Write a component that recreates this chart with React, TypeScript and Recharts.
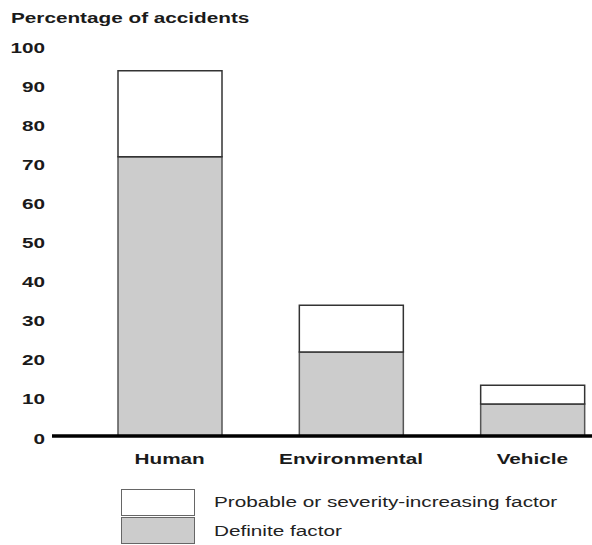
import React from 'react'
import { BarChart, Bar, XAxis, YAxis, Legend } from 'recharts'

// Dados
const categories = ['Human', 'Environmental', 'Vehicle']
const definite = [71.5, 21.5, 8.2]
const probable = [22, 12, 4.8]
const yTicks = [0, 10, 20, 30, 40, 50, 60, 70, 80, 90, 100]

const seriesNames: Record<string, string> = {
  definite: 'Definite factor',
  probable: 'Probable or severity-increasing factor',
}
const seriesFill: Record<string, string> = {
  definite: '#cccccc',
  probable: '#ffffff',
}

const chartData = categories.map((name, i) => ({
  name,
  definite: definite[i],
  probable: probable[i],
}))

// a figura original está esticada na horizontal
const SX = 1.48
const FONT = '"Liberation Sans", Arial, sans-serif'

const YTick = (props: any) => {
  const { x, y, payload } = props
  return (
    <g transform={`translate(${x},${y + 7.5})`}>
      <text transform={`scale(${SX},1)`} textAnchor="end" fontFamily={FONT} fontWeight="bold" fontSize={14} fill="#1a1a1a">
        {payload.value}
      </text>
    </g>
  )
}

const XTick = (props: any) => {
  const { x, y, payload } = props
  return (
    <g transform={`translate(${x},${y + 28})`}>
      <text transform={`scale(${SX},1)`} textAnchor="middle" fontFamily={FONT} fontWeight="bold" fontSize={14} fill="#1a1a1a">
        {payload.value}
      </text>
    </g>
  )
}

const LegendContent = (props: any) => {
  const items = [...(props.payload || [])].reverse()
  return (
    <div style={{ height: 57 }}>
      {items.map((it: any) => (
        <div key={it.dataKey} style={{ display: 'flex', alignItems: 'center', height: 28.5 }}>
          <div
            style={{
              width: 72,
              height: 25,
              border: '1.5px solid #666',
              background: seriesFill[it.dataKey],
            }}
          />
          <span
            style={{
              marginLeft: 19,
              fontFamily: FONT,
              fontSize: 14,
              color: '#222',
              whiteSpace: 'nowrap',
              display: 'inline-block',
              transform: `scaleX(${SX})`,
              transformOrigin: 'left center',
            }}
          >
            {it.value}
          </span>
        </div>
      ))}
    </div>
  )
}

export default function App() {
  return (
    <div style={{ position: 'absolute', left: 0, top: 0, width: 592, height: 545, overflow: 'hidden', background: '#fff' }}>
      <div
        style={{
          position: 'absolute',
          left: 11,
          top: 11,
          fontFamily: FONT,
          fontWeight: 'bold',
          fontSize: 14,
          lineHeight: '14px',
          color: '#1a1a1a',
          whiteSpace: 'nowrap',
          transform: `scaleX(${SX})`,
          transformOrigin: 'left top',
        }}
      >
        Percentage of accidents
      </div>
      <BarChart
        width={630}
        height={545}
        data={chartData}
        margin={{ top: 45.4, right: 7, bottom: 22, left: 0 }}
      >
        <YAxis
          domain={[0, 100]}
          ticks={yTicks}
          width={52}
          axisLine={false}
          tickLine={false}
          tickSize={0}
          tickMargin={7}
          tick={<YTick />}
          interval={0}
        />
        <XAxis
          dataKey="name"
          padding={{ left: 27, right: 0 }}
          axisLine={{ stroke: '#000', strokeWidth: 3.5 }}
          tickLine={false}
          tickSize={0}
          tickMargin={0}
          height={30}
          tick={<XTick />}
          interval={0}
        />
        <Legend
          content={<LegendContent />}
          verticalAlign="bottom"
          wrapperStyle={{ top: 488, left: 121, bottom: 'auto', width: 'auto' }}
        />
        <Bar
          dataKey="definite"
          name={seriesNames.definite}
          stackId="a"
          barSize={104}
          fill={seriesFill.definite}
          stroke="#555"
          strokeWidth={1.5}
          isAnimationActive={false}
        />
        <Bar
          dataKey="probable"
          name={seriesNames.probable}
          stackId="a"
          barSize={104}
          fill={seriesFill.probable}
          stroke="#333"
          strokeWidth={1.5}
          isAnimationActive={false}
        />
      </BarChart>
    </div>
  )
}
